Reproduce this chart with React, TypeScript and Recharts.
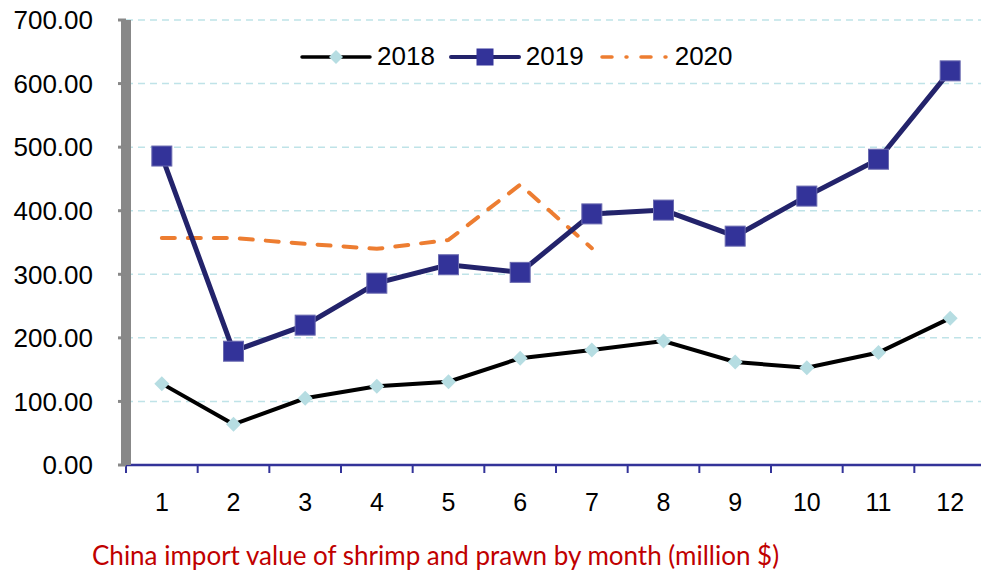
// App.tsx — China shrimp & prawn imports by month, 2018–2020 (Recharts)

import { LineChart, Line, XAxis, YAxis, CartesianGrid } from "recharts";

const months = [1, 2, 3, 4, 5, 6, 7, 8, 9, 10, 11, 12];
const boundaries = [0.5, 1.5, 2.5, 3.5, 4.5, 5.5, 6.5, 7.5, 8.5, 9.5, 10.5, 11.5, 12.5];
const yTicks = [0, 100, 200, 300, 400, 500, 600, 700];

const v2018 = [128, 64, 105, 124, 131, 168, 181, 195, 162, 153, 177, 231];
const v2019 = [486, 179, 220, 286, 315, 303, 395, 401, 360, 423, 481, 620];
const v2020: (number | null)[] = [357, 357, 348, 340, 354, 441, 341, null, null, null, null, null];

const seriesNames = ["2018", "2019", "2020"];

const C2018 = "#000000";
const C2018_DOT = "#b6dde2";
const C2019 = "#23236b";
const C2019_DOT = "#333399";
const C2020 = "#ed7d31";
const AXIS_NAVY = "#333399";
const TITLE_RED = "#c00000";

const FONT = "'Liberation Sans', Arial, sans-serif";

const data = months.map((m, i) => ({
  month: m,
  y2018: v2018[i],
  y2019: v2019[i],
  y2020: v2020[i],
}));

// diamond marker for 2018
function Diamond({ cx, cy }: { cx?: number; cy?: number }) {
  if (cx == null || cy == null) return null;
  const r = 7.5;
  return (
    <path
      d={`M${cx},${cy - r}L${cx + r},${cy}L${cx},${cy + r}L${cx - r},${cy}Z`}
      fill={C2018_DOT}
    />
  );
}

// square marker for 2019
function Square({ cx, cy }: { cx?: number; cy?: number }) {
  if (cx == null || cy == null) return null;
  const s = 20;
  return (
    <rect
      x={cx - s / 2}
      y={cy - s / 2}
      width={s}
      height={s}
      fill={C2019_DOT}
      stroke="#6a6ab0"
      strokeWidth={1}
    />
  );
}

function LegendIcon({ idx }: { idx: number }) {
  return (
    <svg width={72} height={20} style={{ display: "block" }}>
      {idx === 0 && (
        <>
          <line x1={2} y1={10} x2={70} y2={10} stroke={C2018} strokeWidth={3.5} strokeLinecap="round" />
          <path d="M36,3L43,10L36,17L29,10Z" fill={C2018_DOT} />
        </>
      )}
      {idx === 1 && (
        <>
          <line x1={2} y1={10} x2={70} y2={10} stroke={C2019} strokeWidth={4} strokeLinecap="round" />
          <rect x={27.5} y={1.5} width={17} height={17} fill={C2019_DOT} />
        </>
      )}
      {idx === 2 && (
        <line
          x1={4}
          y1={10}
          x2={70}
          y2={10}
          stroke={C2020}
          strokeWidth={3.5}
          strokeLinecap="round"
          strokeDasharray="10 14 1 14"
        />
      )}
    </svg>
  );
}

export default function App() {
  return (
    <div
      style={{
        position: "absolute",
        left: 0,
        top: 0,
        width: 981,
        height: 573,
        overflow: "hidden",
        background: "#fff",
        fontFamily: FONT,
      }}
    >
      <LineChart
        width={990}
        height={573}
        data={data}
        margin={{ top: 20, right: 4, bottom: 106, left: 0 }}
        style={{ fontFamily: FONT }}
      >
        <CartesianGrid
          horizontal
          vertical={false}
          stroke="#bfe3e8"
          strokeWidth={1.5}
          strokeDasharray="7 5"
          xAxisId="m"
        />

        {/* axis line + tick marks at band boundaries */}
        <XAxis
          xAxisId="b"
          type="number"
          dataKey="month"
          domain={[0.5, 12.5]}
          ticks={boundaries}
          allowDataOverflow
          axisLine={{ stroke: AXIS_NAVY, strokeWidth: 2.5 }}
          tickLine={{ stroke: AXIS_NAVY, strokeWidth: 2 }}
          tickSize={8}
          tickFormatter={() => ""}
          height={1}
          interval={0}
        />

        {/* month labels centred in each band */}
        <XAxis
          xAxisId="m"
          type="number"
          dataKey="month"
          domain={[0.5, 12.5]}
          ticks={months}
          allowDataOverflow
          axisLine={false}
          tickLine={false}
          tickSize={0}
          tickMargin={27}
          height={1}
          tick={{ fontSize: 25, fill: "#000", fontFamily: FONT }}
          interval={0}
        />

        <YAxis
          width={126}
          domain={[0, 700]}
          ticks={yTicks}
          interval={0}
          tickFormatter={(v: number) => v.toFixed(2)}
          axisLine={{ stroke: "#888888", strokeWidth: 10 }}
          tickLine={{ stroke: "#888888", strokeWidth: 3 }}
          tickSize={8}
          tickMargin={25}
          tick={{ fontSize: 26, fill: "#000", fontFamily: FONT }}
        />

        <Line
          xAxisId="m"
          dataKey="y2018"
          name="2018"
          stroke={C2018}
          strokeWidth={4}
          dot={<Diamond />}
          activeDot={false}
          type="linear"
          isAnimationActive={false}
        />
        <Line
          xAxisId="m"
          dataKey="y2020"
          name="2020"
          stroke={C2020}
          strokeWidth={4}
          strokeLinecap="round"
          strokeDasharray="13 13"
          dot={false}
          activeDot={false}
          type="linear"
          isAnimationActive={false}
        />
        <Line
          xAxisId="m"
          dataKey="y2019"
          name="2019"
          stroke={C2019}
          strokeWidth={5}
          dot={<Square />}
          activeDot={false}
          type="linear"
          isAnimationActive={false}
        />
      </LineChart>

      {/* legend */}
      <div
        style={{
          position: "absolute",
          left: 300,
          top: 41,
          display: "flex",
          alignItems: "center",
          fontSize: 26,
          color: "#000",
        }}
      >
        {seriesNames.map((n, i) => (
          <div key={n} style={{ display: "flex", alignItems: "center", marginRight: 14 }}>
            <LegendIcon idx={i} />
            <span style={{ marginLeft: 5 }}>{n}</span>
          </div>
        ))}
      </div>

      {/* caption */}
      <div
        style={{
          position: "absolute",
          left: 92,
          top: 539,
          fontFamily: "Lato, 'Open Sans', sans-serif",
          fontSize: 26,
          color: TITLE_RED,
          whiteSpace: "nowrap",
        }}
      >
        China import value of shrimp and prawn by month (million $)
      </div>
    </div>
  );
}
